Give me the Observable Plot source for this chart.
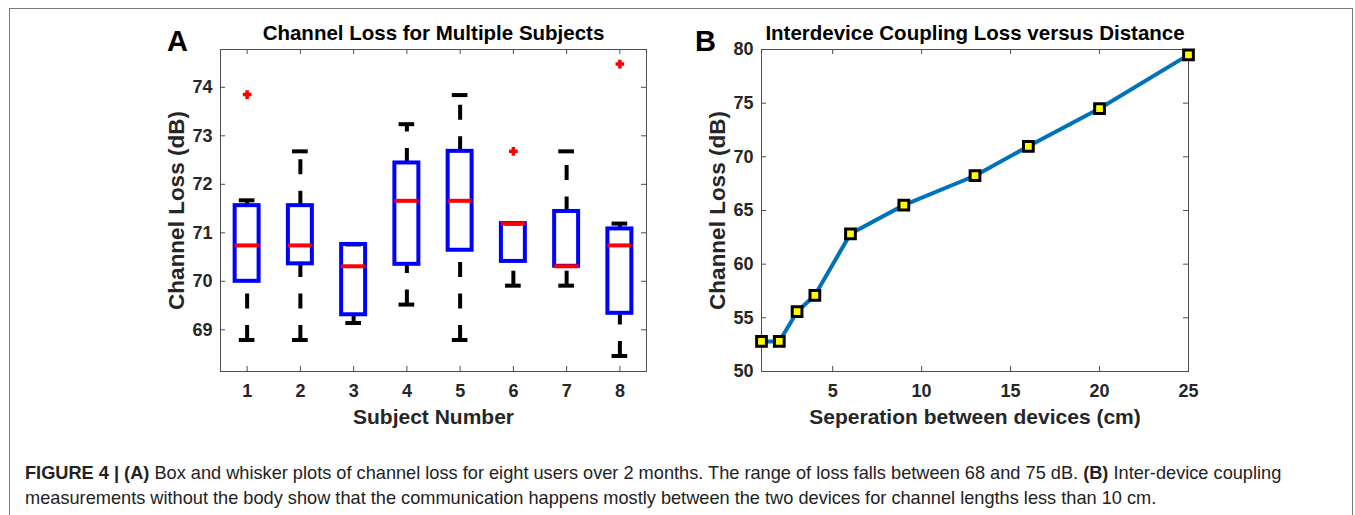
<!DOCTYPE html>
<html>
<head>
<meta charset="utf-8">
<script src="https://cdn.jsdelivr.net/npm/d3@7"></script>
<script src="https://cdn.jsdelivr.net/npm/@observablehq/plot@0.6"></script>
<style>
  html, body { margin: 0; padding: 0; background: #fff; }
  #page { position: relative; width: 1355px; height: 515px; overflow: hidden; font-family: "Liberation Sans", Arial, sans-serif; }
  #border { position: absolute; left: 9px; top: 8px; width: 1344px; height: 600px; border: 1.5px solid #7a7a7a; box-sizing: border-box; }
  .panel { position: absolute; top: 0; }
  .letter { position: absolute; font-weight: bold; font-size: 29px; color: #000; line-height: 1; }
  #caption { position: absolute; left: 25px; top: 461px; font-size: 18.2px; line-height: 25px; color: #222; white-space: nowrap; }
</style>
</head>
<body>
<div id="page">
  <div id="border"></div>
  <div id="panelA" class="panel" style="left:0px"></div>
  <div id="panelB" class="panel" style="left:680px"></div>
  <div class="letter" style="left:167px; top:27px">A</div>
  <div class="letter" style="left:695px; top:27px">B</div>
  <div id="caption"><b>FIGURE 4 | (A)</b> Box and whisker plots of channel loss for eight users over 2 months. The range of loss falls between 68 and 75 dB. <b>(B)</b> Inter-device coupling<br>measurements without the body show that the communication happens mostly between the two devices for channel lengths less than 10 cm.</div>
</div>
<script>
// ---------- Panel A data ----------
const subjects    = [1, 2, 3, 4, 5, 6, 7, 8];
const q1          = [70.00, 70.36, 69.31, 70.35, 70.64, 70.41, 70.31, 69.34];
const medians     = [70.74, 70.74, 70.31, 71.66, 71.66, 71.19, 70.31, 70.74];
const q3          = [71.56, 71.56, 70.76, 72.44, 72.68, 71.19, 71.44, 71.08];
const whiskerLow  = [68.79, 68.79, 69.14, 69.52, 68.79, 69.91, 69.91, 68.46];
const whiskerHigh = [71.67, 72.68, 70.76, 73.24, 73.84, 71.19, 72.68, 71.19];
const outlierSubject = [1, 6, 8];
const outlierValue   = [73.85, 72.68, 74.48];
const yTicksA = [69, 70, 71, 72, 73, 74];

// ---------- Panel B data ----------
const separation = [1, 2, 3, 4, 6, 9, 13, 16, 20, 25];
const couplingLoss = [52.8, 52.8, 55.57, 57.1, 62.83, 65.5, 68.24, 70.98, 74.5, 79.5];
const xTicksB = [5, 10, 15, 20, 25];
const yTicksB = [50, 55, 60, 65, 70, 75, 80];

const boxes = subjects.map((s, i) => ({
  s, q1: q1[i], med: medians[i], q3: q3[i], lo: whiskerLow[i], hi: whiskerHigh[i]
}));
const outliers = outlierSubject.map((s, i) => ({s, v: outlierValue[i]}));
const coupling = separation.map((d, i) => ({d, loss: couplingLoss[i]}));

const FONT = "'Liberation Sans', Arial, Helvetica, sans-serif";
const axisColor = "#4d4d4d";
const textColor = "#262626";
const tickLen = 5;
const boxHalf = 0.225, capHalf = 0.147;
const tickFont = 18, labelFont = 21, yLabelFont = 22.5, titleFont = 20.5;

function frameTicks(W, H, xt, yt) {
  return [
    Plot.tickX(xt, {x: d => d, insetTop: H - tickLen, stroke: axisColor}),
    Plot.tickX(xt, {x: d => d, insetBottom: H - tickLen, stroke: axisColor}),
    Plot.tickY(yt, {y: d => d, insetRight: W - tickLen, stroke: axisColor}),
    Plot.tickY(yt, {y: d => d, insetLeft: W - tickLen, stroke: axisColor})
  ];
}
function labels(title, xlabel, ylabel) {
  return [
    Plot.text([title], {frameAnchor: "top", lineAnchor: "middle", dy: -16, fontSize: titleFont, fontWeight: "bold", fill: "#000"}),
    Plot.text([xlabel], {frameAnchor: "bottom", lineAnchor: "middle", dy: 46, fontSize: labelFont, fontWeight: "bold", fill: textColor}),
    Plot.text([ylabel], {frameAnchor: "left", textAnchor: "middle", lineAnchor: "middle", dx: -44, rotate: -90, fontSize: yLabelFont, fontWeight: "bold", fill: textColor})
  ];
}

// ---------- Panel A ----------
{
  const width = 700, height = 440;
  const mL = 220, mR = 54, mT = 49, mB = 69;
  const W = width - mL - mR, H = height - mT - mB;
  const chart = Plot.plot({
    width, height,
    marginLeft: mL, marginRight: mR, marginTop: mT, marginBottom: mB,
    style: {fontFamily: FONT, fontSize: "16px", fontWeight: "bold", color: textColor, background: "transparent", overflow: "visible"},
    x: {type: "linear", domain: [0.5, 8.5]},
    y: {domain: [68.14, 74.78]},
    marks: [
      Plot.frame({stroke: axisColor, strokeWidth: 1}),
      ...frameTicks(W, H, subjects, yTicksA),
      Plot.axisX(subjects, {tickSize: 0, tickPadding: 13, label: null, fontSize: tickFont, fontWeight: "bold", fill: textColor}),
      Plot.axisY(yTicksA, {tickSize: 0, tickPadding: 8, label: null, fontSize: tickFont, fontWeight: "bold", fill: textColor}),
      // whiskers (drawn from lower value upward)
      Plot.link(boxes, {x1: "s", x2: "s", y1: "lo", y2: "q1", stroke: "#000", strokeWidth: 4, strokeDasharray: "15,16.5"}),
      Plot.link(boxes, {x1: "s", x2: "s", y1: "q3", y2: "hi", stroke: "#000", strokeWidth: 4, strokeDasharray: "15,16.5"}),
      // caps
      Plot.ruleY(boxes, {y: "lo", x1: d => d.s - capHalf, x2: d => d.s + capHalf, stroke: "#000", strokeWidth: 4}),
      Plot.ruleY(boxes, {y: "hi", x1: d => d.s - capHalf, x2: d => d.s + capHalf, stroke: "#000", strokeWidth: 4}),
      // boxes
      Plot.rect(boxes, {x1: d => d.s - boxHalf, x2: d => d.s + boxHalf, y1: "q1", y2: "q3", fill: "none", stroke: "#0000ff", strokeWidth: 4}),
      // medians
      Plot.ruleY(boxes, {y: "med", x1: d => d.s - boxHalf, x2: d => d.s + boxHalf, stroke: "#ff0000", strokeWidth: 4}),
      // outliers
      Plot.dot(outliers, {x: "s", y: "v", symbol: "plus", r: 2.9, stroke: "#ff0000", strokeWidth: 3.5}),
      ...labels("Channel Loss for Multiple Subjects", "Subject Number", "Channel Loss (dB)")
    ]
  });
  document.getElementById("panelA").appendChild(chart);
}

// ---------- Panel B ----------
{
  const width = 560, height = 440;
  const mL = 81, mR = 52, mT = 49, mB = 69;
  const W = width - mL - mR, H = height - mT - mB;
  const chart = Plot.plot({
    width, height,
    marginLeft: mL, marginRight: mR, marginTop: mT, marginBottom: mB,
    style: {fontFamily: FONT, fontSize: "16px", fontWeight: "bold", color: textColor, background: "transparent", overflow: "visible"},
    x: {type: "linear", domain: [1, 25]},
    y: {domain: [50, 80]},
    marks: [
      Plot.frame({stroke: axisColor, strokeWidth: 1}),
      ...frameTicks(W, H, xTicksB, yTicksB),
      Plot.axisX(xTicksB, {tickSize: 0, tickPadding: 13, label: null, fontSize: tickFont, fontWeight: "bold", fill: textColor}),
      Plot.axisY(yTicksB, {tickSize: 0, tickPadding: 8, label: null, fontSize: tickFont, fontWeight: "bold", fill: textColor}),
      Plot.line(coupling, {x: "d", y: "loss", stroke: "#0072BD", strokeWidth: 4}),
      Plot.dot(coupling, {x: "d", y: "loss", symbol: "square", r: 5.5, fill: "#ffff00", stroke: "#000", strokeWidth: 3}),
      ...labels("Interdevice Coupling Loss versus Distance", "Seperation between devices (cm)", "Channel Loss (dB)")
    ]
  });
  document.getElementById("panelB").appendChild(chart);
}
</script>
</body>
</html>
